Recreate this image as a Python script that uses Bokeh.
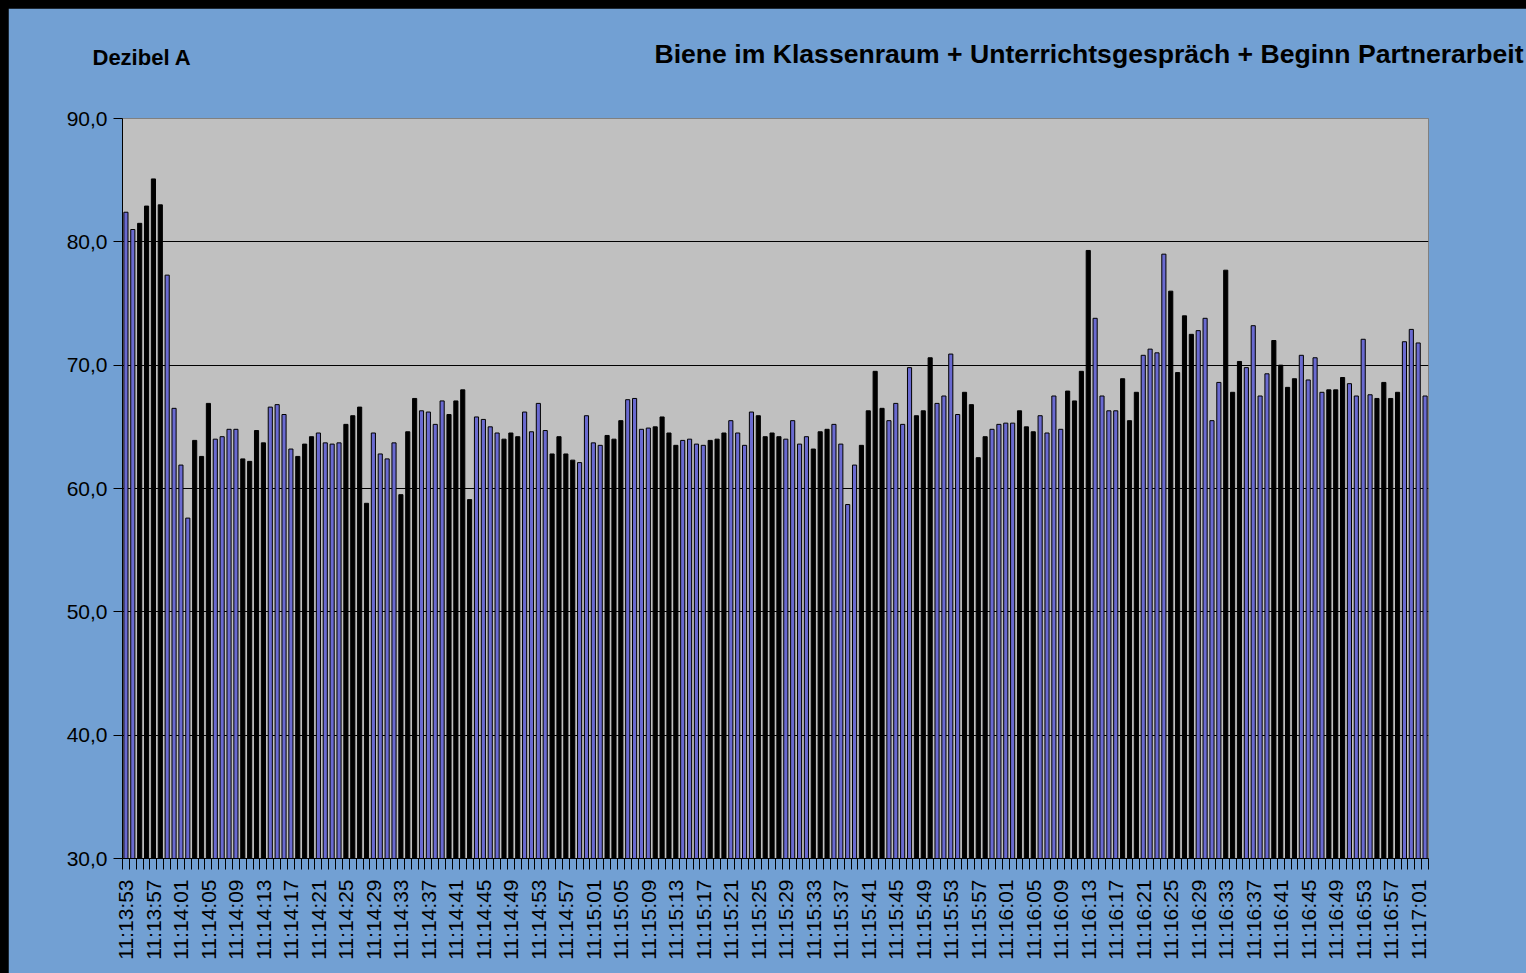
import math
from bokeh.plotting import figure
from bokeh.models import FixedTicker, Label, AllLabels
from bokeh.embed import file_html
from bokeh.resources import INLINE

# ---------------- data ----------------
title_text = "Biene im Klassenraum + Unterrichtsgespräch + Beginn Partnerarbeit"
unit_text = "Dezibel A"

start_time = (11, 13, 53)   # first sample, one sample per second

values = [
    82.4, 81.0, 81.5, 82.9, 85.1, 83.0, 77.3, 66.5, 61.9, 57.6, 63.9, 62.6, 66.9, 64.0, 64.2, 64.8, 64.8,
    62.4, 62.2, 64.7, 63.7, 66.6, 66.8, 66.0, 63.2, 62.6, 63.6, 64.2, 64.5, 63.7, 63.6, 63.7, 65.2, 65.9,
    66.6, 58.8, 64.5, 62.8, 62.4, 63.7, 59.5, 64.6, 67.3, 66.3, 66.2, 65.2, 67.1, 66.0, 67.1, 68.0, 59.1, 65.8,
    65.6, 65.0, 64.5, 64.0, 64.5, 64.2, 66.2, 64.6, 66.9, 64.7, 62.8, 64.2, 62.8, 62.3, 62.1, 65.9, 63.7,
    63.5, 64.3, 64.0, 65.5, 67.2, 67.3, 64.8, 64.9, 65.0, 65.8, 64.5, 63.5, 63.9, 64.0, 63.6, 63.5, 63.9, 64.0,
    64.5, 65.5, 64.5, 63.5, 66.2, 65.9, 64.2, 64.5, 64.2, 64.0, 65.5, 63.6, 64.2, 63.2, 64.6, 64.8, 65.2,
    63.6, 58.7, 61.9, 63.5, 66.3, 69.5, 66.5, 65.5, 66.9, 65.2, 69.8, 65.9, 66.3, 70.6, 66.9, 67.5, 70.9, 66.0,
    67.8, 66.8, 62.5, 64.2, 64.8, 65.2, 65.3, 65.3, 66.3, 65.0, 64.6, 65.9, 64.5, 67.5, 64.8, 67.9, 67.1,
    69.5, 79.3, 73.8, 67.5, 66.3, 66.3, 68.9, 65.5, 67.8, 70.8, 71.3, 71.0, 79.0, 76.0, 69.4, 74.0, 72.5, 72.8,
    73.8, 65.5, 68.6, 77.7, 67.8, 70.3, 69.8, 73.2, 67.5, 69.3, 72.0, 70.0, 68.2, 68.9, 70.8, 68.8, 70.6,
    67.8, 68.0, 68.0, 69.0, 68.5, 67.5, 72.1, 67.6, 67.3, 68.6, 67.3, 67.8, 71.9, 72.9, 71.8, 67.5,
]

# category labels: one per second
categories = []
_t0 = start_time[0] * 3600 + start_time[1] * 60 + start_time[2]
for i in range(len(values)):
    t = _t0 + i
    categories.append(f"{t // 3600:02d}:{(t // 60) % 60:02d}:{t % 60:02d}")

label_step = 4
y_ticks = [30, 40, 50, 60, 70, 80, 90]
y_tick_labels = ["30,0", "40,0", "50,0", "60,0", "70,0", "80,0", "90,0"]

# ---------------- chart ----------------
FONT = "Liberation Sans"
BAR_BLUE = "#6A6AD0"
n = len(values)
xs = list(range(n))

# the original's bars come out as black or blue stripes depending on how each
# narrow bar lands on the pixel grid (a moire of ~7.5 bars); mimic that texture
fills = []
for i in range(n):
    phase = ((i - 1.8) / 7.5) % 1.0
    fills.append("black" if phase < 0.45 else BAR_BLUE)

p = figure(width=1518, height=965, output_backend="svg", toolbar_location=None,
           x_range=(-0.5, n - 0.5), y_range=(y_ticks[0], y_ticks[-1]),
           min_border_left=114, min_border_right=98, min_border_top=110, min_border_bottom=115)

p.background_fill_color = "#C0C0C0"
p.border_fill_color = "#72A0D3"
p.outline_line_color = "#808080"

p.vbar(x=xs, top=values, bottom=y_ticks[0], width=0.6,
       fill_color=fills, line_color="black", line_width=1)

# x axis
major = list(range(0, n, label_step))
p.xaxis.ticker = FixedTicker(ticks=major, minor_ticks=[i - 0.5 for i in range(n + 1)])
p.xaxis.major_label_overrides = {i: categories[i] for i in major}
p.xaxis.major_label_orientation = math.pi / 2
p.xaxis.major_label_policy = AllLabels()
p.xaxis.major_tick_out = 0
p.xaxis.major_tick_in = 0
p.xaxis.minor_tick_out = 11
p.xaxis.minor_tick_in = 0
p.xaxis.minor_tick_line_color = "black"
p.xaxis.axis_line_color = "black"
p.xaxis.major_label_standoff = 10
p.xaxis.major_label_text_font = FONT
p.xaxis.major_label_text_font_size = "21px"
p.xaxis.major_label_text_color = "black"
p.xgrid.visible = False

# y axis
p.yaxis.ticker = FixedTicker(ticks=y_ticks)
p.yaxis.major_label_overrides = dict(zip(y_ticks, y_tick_labels))
p.yaxis.minor_tick_line_color = None
p.yaxis.major_tick_out = 9
p.yaxis.major_tick_in = 0
p.yaxis.major_tick_line_color = "black"
p.yaxis.axis_line_color = "black"
p.yaxis.major_label_standoff = 6
p.yaxis.major_label_text_font = FONT
p.yaxis.major_label_text_font_size = "21px"
p.yaxis.major_label_text_color = "black"
p.ygrid.ticker = FixedTicker(ticks=y_ticks)
p.ygrid.grid_line_color = "black"
p.ygrid.grid_line_width = 1

# texts above the plot area, placed in the "above" side panel
p.add_layout(Label(x=1401, y=65, x_units="screen", y_units="screen", text=title_text,
                   text_align="right", text_baseline="alphabetic", text_font=FONT,
                   text_font_style="bold", text_font_size="26.6px", text_color="black"), "above")
p.add_layout(Label(x=-30, y=31, x_units="screen", y_units="screen", text=unit_text,
                   text_align="left", text_baseline="alphabetic", text_font=FONT,
                   text_font_style="bold", text_font_size="22px", text_color="black"), "above")

template = None
try:
    from bokeh.core.templates import get_env
    template = get_env().from_string(
        '{% extends "file.html" %}{% block preamble %}'
        '<style>html{background:#000 !important;overflow:hidden !important;margin:0 !important;}'
        'body{background:#000 !important;overflow:hidden !important;'
        'margin:8px 0 0 8px !important;width:1518px !important;}'
        '</style>{% endblock %}')
except Exception:
    template = None

if template is not None:
    html = file_html(p, INLINE, template=template)
else:
    html = file_html(p, INLINE)
open("out.html", "w").write(html)
